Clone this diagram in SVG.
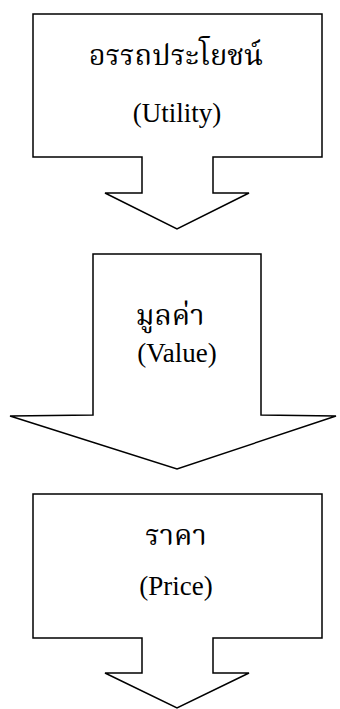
<svg xmlns="http://www.w3.org/2000/svg" width="340" height="709" viewBox="0 0 340 709">
  <style>
    .shape { fill: #ffffff; stroke: #000000; stroke-width: 1.5; stroke-linejoin: miter; }
    .th { font-family: "Liberation Serif", "Noto Serif Thai", "Noto Sans Thai", "DejaVu Sans", serif; font-size: 29px; fill: #000; text-anchor: middle; }
    .en { font-family: "Liberation Serif", serif; font-size: 27px; fill: #000; text-anchor: middle; }
  </style>
  <rect width="340" height="709" fill="#ffffff"/>
  <g id="connectors"></g>
  <g id="node-utility">
    <polygon class="shape" points="33,14 322,14 322,157 213,157 213,193 249,193 177,229 105,193 142,193 142,157 33,157"/>
    <text class="th" x="176" y="65">อรรถประโยชน์</text>
    <text class="en" x="177" y="122">(Utility)</text>
  </g>
  <g id="node-value">
    <polygon class="shape" points="93,254 261,254 261,415 336,416 177,469 10,416 93,415"/>
    <text class="th" x="170" y="325">มูลค่า</text>
    <text class="en" x="177" y="362">(Value)</text>
  </g>
  <g id="node-price">
    <polygon class="shape" points="33,494 322,494 322,638 213,638 213,673 249,673 177,708 105,673 142,673 142,638 33,638"/>
    <text class="th" x="176" y="545">ราคา</text>
    <text class="en" x="176" y="595">(Price)</text>
  </g>
</svg>
